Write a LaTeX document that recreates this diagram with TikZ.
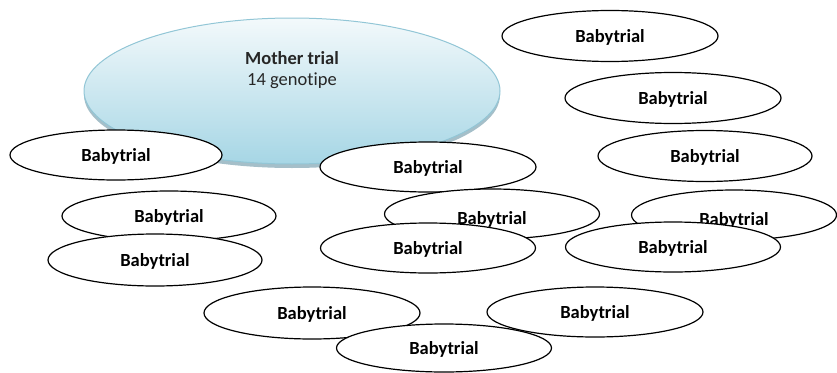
\documentclass[tikz,border=0pt]{standalone}
\usepackage{fontspec}
\setmainfont{Carlito}[Ligatures=NoCommon]
\usetikzlibrary{shapes.geometric,shadows}
\definecolor{motherTop}{HTML}{F3F9FB}
\definecolor{motherBottom}{HTML}{A6D6E5}
\definecolor{motherLine}{HTML}{92C6D6}
\definecolor{motherShade}{HTML}{7FA4B2}
\tikzset{
	baby/.style={ellipse, draw=black, line width=1.2pt, fill=white, inner sep=0pt,
		minimum width=215pt, minimum height=51pt, text depth=0pt,
		font=\fontsize{18.5}{21.5}\selectfont\bfseries},
	babylow/.style={baby, text height=20pt},
	motherbox/.style={ellipse, draw=motherLine, line width=1pt, inner sep=0pt,
		top color=motherTop, bottom color=motherBottom,
		minimum width=416pt, minimum height=146pt,
		drop shadow={shadow xshift=0pt, shadow yshift=-4pt, fill=motherShade, opacity=0.7}},
	mothertext/.style={align=center, text=black!85, font=\fontsize{18.5}{21.5}\selectfont}
}

\begin{document}
\begin{tikzpicture}[x=1pt, y=-1pt]
		%%%%% START %%%%%
		\useasboundingbox (0, 0) rectangle (837, 372);
		
		\node[motherbox] (mother) at (292, 91) {};
		\node[mothertext] (motherlabel) at ([yshift=21pt]mother.center) {\textbf{Mother trial}\\14 genotipe};
		
		\node[baby, minimum width=216pt] (b1) at (610, 36) {Babytrial};
		\node[baby, minimum width=216pt] (b2) at (673, 98) {Babytrial};
		\node[baby, minimum width=214pt] (b3) at (705, 156) {Babytrial};
		\node[baby, minimum width=212pt, minimum height=50pt] (b4) at (116, 155) {Babytrial};
		\node[baby, minimum width=216pt, minimum height=50pt] (b5) at (428, 167) {Babytrial};
		
		\node[babylow, minimum width=205pt, minimum height=50pt] (b8) at (734, 215) {Babytrial};
		\node[baby, minimum height=50pt] (b11) at (673, 247) {Babytrial};
		\node[babylow, minimum height=50pt] (b7) at (492, 214) {Babytrial};
		\node[baby, minimum height=50pt] (b10) at (428, 248) {Babytrial};
		\node[baby, minimum width=214pt, minimum height=50pt] (b6) at (169, 216) {Babytrial};
		\node[baby, minimum width=214pt, minimum height=52pt] (b9) at (155, 260) {Babytrial};
		
		\node[baby, minimum width=216pt, minimum height=52pt] (b12) at (312, 313) {Babytrial};
		\node[baby, minimum width=216pt, minimum height=50pt] (b13) at (595, 312) {Babytrial};
		\node[baby, minimum height=48pt] (b14) at (444, 348) {Babytrial};
		%%%%% END %%%%%
\end{tikzpicture}
\end{document}
